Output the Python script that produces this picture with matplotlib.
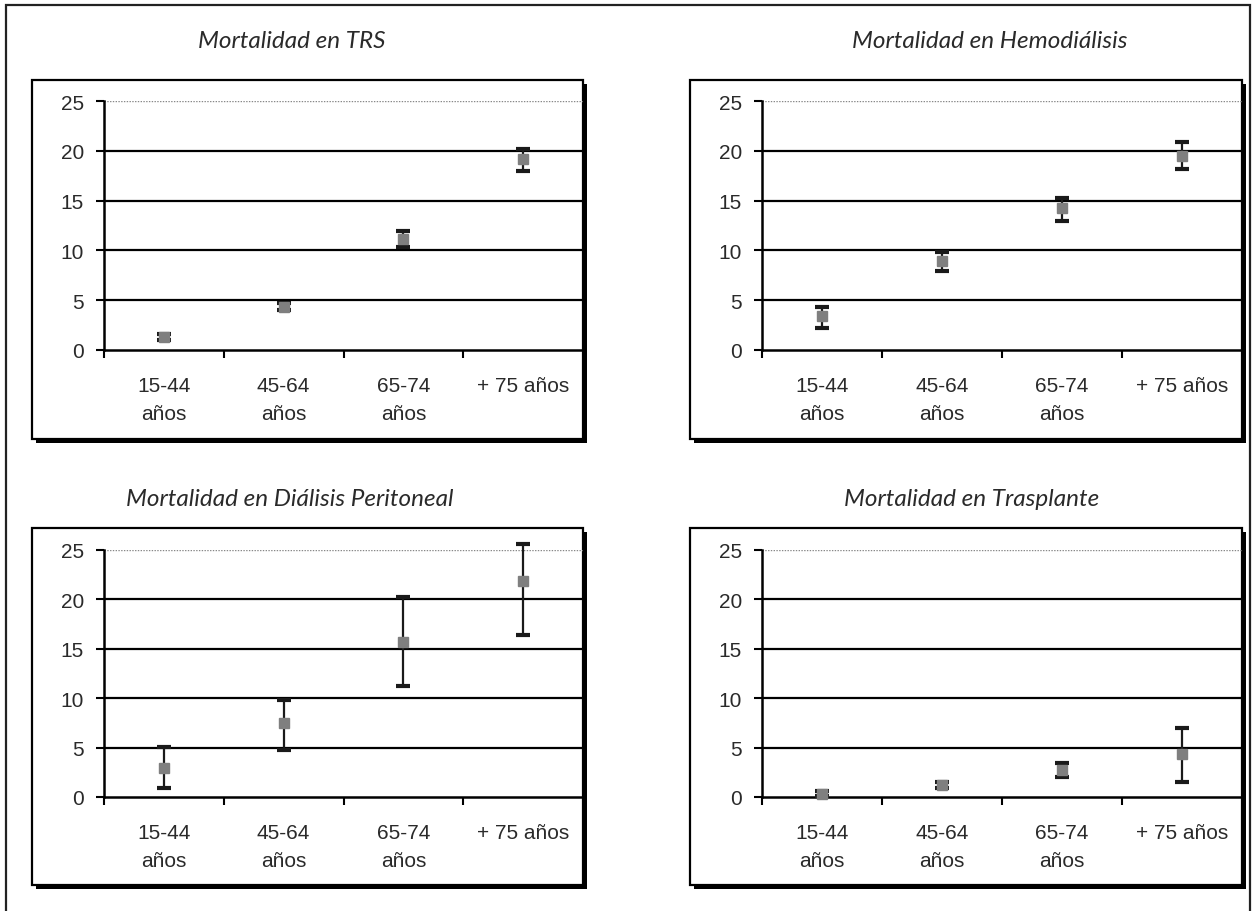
import matplotlib
matplotlib.use("Agg")
import matplotlib.pyplot as plt
from matplotlib.patches import Rectangle
import numpy as np

# ---------------- data ----------------
categories = ["15-44\naños", "45-64\naños", "65-74\naños", "+ 75 años"]
titles = ["Mortalidad en TRS", "Mortalidad en Hemodiálisis",
          "Mortalidad en Diálisis Peritoneal", "Mortalidad en Trasplante"]

trs_val = [1.3, 4.3, 11.1, 19.2]
trs_low = [1.0, 4.0, 10.3, 18.0]
trs_high = [1.6, 4.7, 11.9, 20.2]

hd_val = [3.4, 8.9, 14.3, 19.5]
hd_low = [2.2, 7.9, 13.0, 18.2]
hd_high = [4.3, 9.8, 15.3, 20.9]

dp_val = [2.9, 7.5, 15.7, 21.9]
dp_low = [0.9, 4.8, 11.2, 16.4]
dp_high = [5.1, 9.8, 20.2, 25.6]

tx_val = [0.3, 1.2, 2.7, 4.4]
tx_low = [0.1, 0.9, 2.0, 1.5]
tx_high = [0.6, 1.5, 3.4, 7.0]

y_ticks = [0, 5, 10, 15, 20, 25]

series = [(trs_val, trs_low, trs_high), (hd_val, hd_low, hd_high),
          (dp_val, dp_low, dp_high), (tx_val, tx_low, tx_high)]

# ---------------- layout (pixels) ----------------
W, H = 1255, 912
fig = plt.figure(figsize=(W / 100, H / 100), dpi=100)
fig.patch.set_facecolor("white")

def fx(x):
    return x / W

def fy(y):
    return 1 - y / H

# axes rectangles: (left, top, right, bottom) in px
axes_px = [(104, 102, 583, 351), (762, 102, 1242, 351),
           (104, 551, 583, 798), (762, 551, 1242, 798)]
boxes_px = [(32, 81, 583, 440), (690, 81, 1242, 440),
            (32, 529, 583, 886), (690, 529, 1242, 886)]
title_pos = [(292, 42), (990, 42), (290, 500), (972, 500)]

# outer border
fig.patches.append(Rectangle((fx(6), fy(930)), fx(1250) - fx(6), fy(6) - fy(930),
                             transform=fig.transFigure, fill=False,
                             edgecolor="#222222", linewidth=1.6, zorder=-5))

tick_font = dict(family="Liberation Sans", size=15, color="#2a2a2a")

for i in range(4):
    l, t, r, b = boxes_px[i]
    # shadow
    fig.patches.append(Rectangle((fx(l + 4), fy(b + 4)), fx(r) - fx(l), fy(t) - fy(b),
                                 transform=fig.transFigure, facecolor="black",
                                 edgecolor="black", linewidth=0, zorder=-4))
    fig.patches.append(Rectangle((fx(l), fy(b)), fx(r) - fx(l), fy(t) - fy(b),
                                 transform=fig.transFigure, facecolor="white",
                                 edgecolor="black", linewidth=1.6, zorder=-3))
    tx, ty = title_pos[i]
    fig.text(fx(tx), fy(ty), titles[i], ha="center", va="center",
             family="Lato", style="italic", fontsize=17.5, color="#2a2a2a")

    al, at, ar, ab = axes_px[i]
    ax = fig.add_axes([fx(al), fy(ab), fx(ar) - fx(al), fy(at) - fy(ab)])
    ax.set_facecolor("none")
    val, lo, hi = series[i]
    x = np.arange(len(categories)) + 0.5
    val = np.array(val)
    yerr = np.vstack([val - np.array(lo), np.array(hi) - val])
    ax.errorbar(x, val, yerr=yerr, fmt="s", color="#7f7f7f", markersize=7.5,
                markeredgecolor="#7f7f7f", ecolor="#1a1a1a", elinewidth=1.6,
                capsize=5.0, capthick=3.0, clip_on=False, zorder=5)

    ax.set_xlim(0, 4)
    ax.set_ylim(0, 25)
    ax.set_yticks(y_ticks)
    ax.set_yticklabels([str(v) for v in y_ticks], **tick_font)
    ax.set_xticks(x)
    ax.set_xticklabels(categories, linespacing=1.55, **tick_font)
    ax.set_xticks([0, 1, 2, 3], minor=True)
    ax.tick_params(axis="x", which="major", length=0, pad=19)
    ax.tick_params(axis="x", which="minor", length=5.5, width=1.5, direction="out",
                   color="black")
    ax.tick_params(axis="y", which="major", length=5.5, width=1.5, direction="out",
                   pad=9, color="black")

    for sp in ["top", "right"]:
        ax.spines[sp].set_visible(False)
    for sp in ["left", "bottom"]:
        ax.spines[sp].set_linewidth(1.8)
        ax.spines[sp].set_color("black")

    for v in y_ticks[1:-1]:
        ax.axhline(v, color="black", linewidth=1.6, zorder=1)
    ax.axhline(y_ticks[-1], color="#888888", linewidth=1.0, linestyle=(0, (1, 1)), zorder=1)

fig.savefig("out.png", dpi=100, facecolor="white")
